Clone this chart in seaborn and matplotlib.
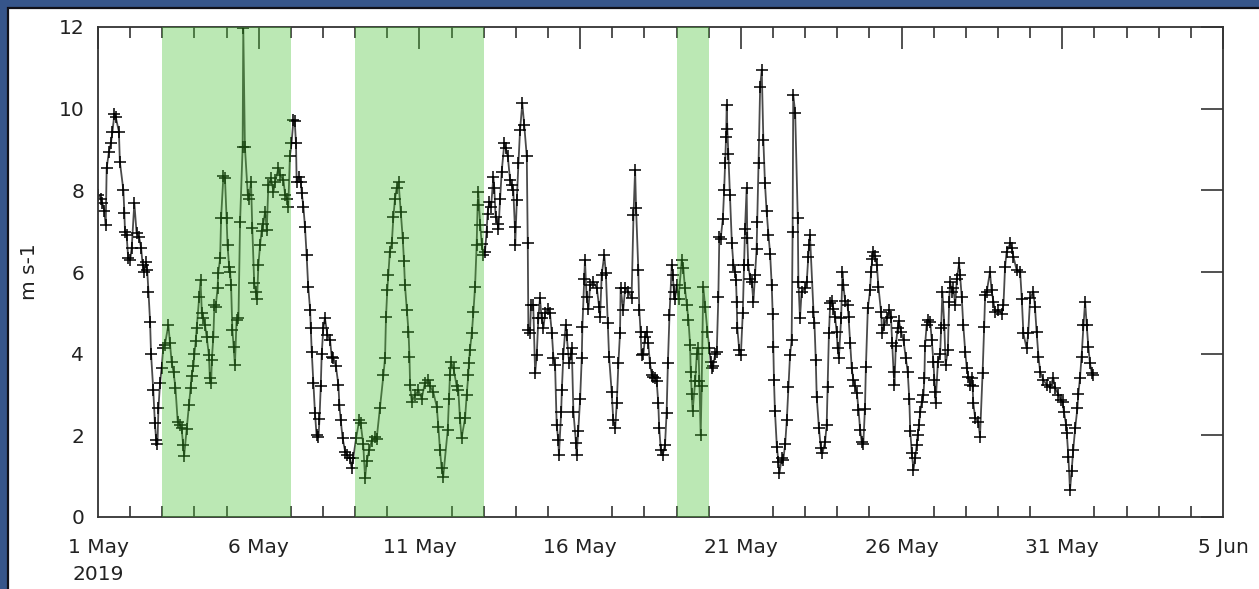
import numpy as np
import pandas as pd
import matplotlib
matplotlib.use("Agg")
import matplotlib.pyplot as plt
import matplotlib.dates as mdates
from matplotlib.patches import Rectangle
import seaborn as sns

# ---- data: decimal days since 2019-05-01 00:00, wind speed (m s-1) ----
days = [0.01, 0.09, 0.13, 0.20, 0.24, 0.27, 0.34, 0.40, 0.45, 0.51, 0.55, 0.65, 0.68, 0.79, 0.82, 0.84, 0.89, 0.94,
        1.00, 1.05, 1.13, 1.20, 1.28, 1.34, 1.39, 1.44, 1.49, 1.53, 1.57, 1.62, 1.65, 1.72, 1.77, 1.81, 1.85, 1.88, 1.93, 1.98,
        2.03, 2.08, 2.19, 2.24, 2.29, 2.35, 2.41, 2.48, 2.55, 2.60, 2.65, 2.68, 2.76, 2.83, 2.88, 2.91, 2.97,
        3.00, 3.04, 3.07, 3.15, 3.19, 3.23, 3.28, 3.33, 3.38, 3.45, 3.48, 3.52, 3.54, 3.59, 3.62, 3.66, 3.72, 3.74, 3.80, 3.83, 3.90, 3.95,
        4.00, 4.03, 4.08, 4.11, 4.14, 4.18, 4.22, 4.26, 4.31, 4.37, 4.42, 4.50, 4.52, 4.57, 4.66, 4.70, 4.76, 4.80, 4.86, 4.91, 4.95, 4.99,
        5.04, 5.09, 5.14, 5.20, 5.25, 5.30, 5.38, 5.46, 5.51, 5.61, 5.66, 5.77, 5.82, 5.89, 5.92, 5.97,
        6.02, 6.08, 6.12, 6.16, 6.18, 6.26, 6.31, 6.34, 6.39, 6.44, 6.49, 6.54, 6.60, 6.62, 6.65, 6.70, 6.75, 6.80, 6.86, 6.89, 6.93, 6.96,
        7.01, 7.06, 7.14, 7.22, 7.27, 7.32, 7.40, 7.48, 7.51, 7.55, 7.61, 7.69, 7.76, 7.84, 7.89, 7.94,
        8.03, 8.13, 8.17, 8.25, 8.31, 8.36, 8.44, 8.51, 8.62, 8.67, 8.77, 8.88, 8.93, 8.96,
        9.00, 9.03, 9.08, 9.14, 9.19, 9.24, 9.29, 9.35, 9.42, 9.48, 9.52, 9.55, 9.61, 9.66, 9.69, 9.71, 9.76, 9.86, 9.97,
        10.07, 10.17, 10.28, 10.33, 10.43, 10.54, 10.59, 10.64, 10.69, 10.74, 10.88, 10.92, 10.95, 10.98,
        11.06, 11.16, 11.21, 11.26, 11.31, 11.42, 11.47, 11.52, 11.54, 11.57, 11.63, 11.68, 11.73, 11.78, 11.81, 11.83, 11.89, 11.94, 11.99,
        12.04, 12.09, 12.12, 12.17, 12.23, 12.30, 12.33, 12.37, 12.43, 12.46, 12.51, 12.56, 12.64, 12.68, 12.75, 12.82, 12.87, 12.92, 12.97, 12.98,
        13.03, 13.08, 13.13, 13.20, 13.26, 13.34, 13.37, 13.39, 13.44, 13.47, 13.54, 13.60, 13.65, 13.70, 13.75, 13.80, 13.86, 13.91,
        14.01, 14.06, 14.12, 14.17, 14.22, 14.27, 14.32, 14.34, 14.41, 14.43, 14.48, 14.55, 14.58, 14.66, 14.72, 14.74, 14.79, 14.87, 14.89, 14.94,
        15.00, 15.05, 15.07, 15.13, 15.15, 15.20, 15.26, 15.31, 15.41, 15.52, 15.59, 15.62, 15.67, 15.75, 15.80, 15.86, 15.90, 15.98,
        16.03, 16.09, 16.14, 16.19, 16.24, 16.26, 16.34, 16.40, 16.50, 16.60, 16.66, 16.71, 16.74, 16.81, 16.84, 16.88, 16.91, 16.97,
        17.02, 17.07, 17.12, 17.17, 17.23, 17.28, 17.33, 17.38, 17.43, 17.46, 17.51, 17.57, 17.64, 17.69, 17.73, 17.78, 17.85, 17.88, 17.92, 17.95,
        18.00, 18.06, 18.16, 18.21, 18.26, 18.32, 18.37, 18.42, 18.44, 18.47, 18.50, 18.58, 18.63, 18.68, 18.71, 18.75, 18.78, 18.83, 18.89, 18.96,
        19.02, 19.06, 19.09, 19.14, 19.20, 19.25, 19.30, 19.33, 19.37, 19.44, 19.48, 19.51, 19.54, 19.56, 19.58, 19.61, 19.66, 19.72, 19.77, 19.82, 19.85, 19.87, 19.89, 19.95,
        20.00, 20.06, 20.10, 20.13, 20.18, 20.20, 20.23, 20.29, 20.34, 20.39, 20.44, 20.49, 20.51, 20.55, 20.60, 20.65, 20.70, 20.75, 20.80, 20.86, 20.91, 20.96, 20.99,
        21.01, 21.03, 21.06, 21.12, 21.17, 21.20, 21.27, 21.32, 21.38, 21.43, 21.48, 21.53, 21.58, 21.61, 21.63, 21.69, 21.77, 21.79, 21.84, 21.89,
        22.00, 22.05, 22.10, 22.12, 22.15, 22.26, 22.29, 22.33, 22.36, 22.43, 22.49, 22.54, 22.62, 22.67, 22.70, 22.74, 22.78, 22.83, 22.88, 22.93, 22.98,
        23.01, 23.05, 23.12, 23.16, 23.19, 23.24, 23.32, 23.35, 23.40, 23.45, 23.50, 23.55, 23.61, 23.66, 23.71, 23.76, 23.81, 23.86, 23.89, 23.95,
        24.02, 24.05, 24.09, 24.12, 24.17, 24.23, 24.28, 24.36, 24.40, 24.46, 24.54, 24.62, 24.67, 24.71, 24.75, 24.78, 24.82, 24.88, 24.92, 24.98,
        25.06, 25.13, 25.19, 25.24, 25.27, 25.32, 25.37, 25.42, 25.47, 25.50, 25.54, 25.58, 25.63, 25.68, 25.71, 25.73, 25.78, 25.83, 25.89, 25.94, 25.99,
        26.02, 26.04, 26.06, 26.13, 26.20, 26.23, 26.27, 26.33, 26.37, 26.44, 26.48, 26.51, 26.56, 26.61, 26.67, 26.72, 26.79, 26.82, 26.87, 26.92, 26.98,
        27.03, 27.08, 27.13, 27.18, 27.21, 27.23, 27.29, 27.39, 27.44, 27.52, 27.57, 27.60, 27.65, 27.75, 27.80, 27.86, 27.91,
        28.01, 28.12, 28.17, 28.22, 28.27, 28.38, 28.43, 28.48, 28.58, 28.69, 28.74, 28.79, 28.89, 28.94,
        29.00, 29.10, 29.15, 29.20, 29.26, 29.31, 29.41, 29.52, 29.62, 29.72, 29.78, 29.88, 29.95,
        30.01, 30.05, 30.12, 30.14, 30.19, 30.24, 30.29, 30.34, 30.40, 30.47, 30.50, 30.55, 30.60, 30.66, 30.71, 30.76, 30.81, 30.86, 30.92, 30.97]

speed = [7.89, 7.80, 7.70, 7.50, 7.15, 8.55, 8.94, 9.15, 9.44, 9.87, 9.80, 9.44, 8.70, 8.00, 7.45, 6.99, 6.90, 6.34,
         6.30, 6.60, 7.69, 6.96, 6.85, 6.60, 6.17, 6.00, 6.25, 6.05, 5.52, 4.78, 4.00, 3.10, 2.30, 1.89, 1.78, 2.66, 3.28, 3.65,
         4.14, 4.22, 4.70, 4.25, 3.80, 3.55, 3.16, 2.33, 2.26, 2.18, 1.76, 1.50, 2.15, 2.74, 3.16, 3.45, 3.70,
         4.00, 4.30, 4.62, 5.40, 5.80, 5.00, 4.88, 4.70, 4.42, 3.97, 3.40, 3.28, 3.85, 4.42, 5.19, 5.15, 5.60, 5.97, 6.34, 7.33, 8.34, 8.30,
         7.33, 6.65, 6.13, 6.00, 5.68, 4.58, 4.17, 3.72, 4.82, 4.87, 7.23, 9.07, 11.97, 9.07, 7.89, 7.80, 8.21, 7.08, 5.73, 5.52, 5.35, 6.17,
         6.65, 7.00, 7.18, 7.48, 7.03, 8.13, 8.30, 7.97, 8.20, 8.54, 8.38, 8.25, 7.89, 7.80, 7.60, 8.83,
         9.15, 9.72, 9.70, 9.15, 8.21, 8.33, 8.20, 7.93, 7.60, 7.10, 6.42, 5.64, 5.07, 4.62, 4.04, 3.28, 2.55, 2.00, 1.95, 2.40, 3.20, 4.00,
         4.62, 4.87, 4.45, 4.33, 3.93, 3.90, 3.70, 3.23, 2.74, 2.38, 1.93, 1.60, 1.52, 1.44, 1.20, 1.44,
         1.93, 2.38, 2.30, 1.80, 0.95, 1.36, 1.65, 1.85, 1.96, 1.92, 2.66, 3.48, 3.90, 4.90,
         5.55, 5.92, 6.50, 6.70, 7.35, 7.80, 8.05, 8.20, 7.48, 6.83, 6.26, 5.68, 5.07, 4.54, 3.93, 3.23, 2.82, 2.98, 3.10,
         2.90, 3.28, 3.36, 3.20, 3.06, 2.70, 2.20, 1.63, 1.20, 0.99, 2.13, 2.90, 3.48, 3.80,
         3.64, 3.20, 3.10, 2.42, 1.93, 2.42, 2.98, 3.48, 3.77, 4.09, 4.50, 5.03, 5.64, 6.66, 7.64, 7.97, 7.15, 6.68, 6.42,
         6.50, 6.99, 7.43, 7.72, 7.60, 8.33, 8.05, 7.35, 7.18, 7.05, 7.80, 8.46, 9.15, 9.03, 8.83, 8.25, 8.13, 8.00, 7.10, 6.66,
         7.76, 8.66, 9.47, 10.13, 9.60, 8.83, 6.70, 4.58, 4.50, 5.19, 5.20, 3.52, 3.97, 4.87, 5.36, 4.87, 4.64, 5.00,
         5.10, 5.00, 4.50, 3.90, 3.72, 2.25, 1.88, 1.52, 2.58, 3.10, 4.00, 4.70, 4.45, 3.77, 3.98, 4.13, 2.58, 1.82, 1.52, 2.10,
         2.90, 3.90, 4.66, 5.84, 6.29, 5.40, 5.10, 5.68, 5.76, 5.60, 5.15, 4.90, 5.92, 6.42, 5.97, 4.75, 3.93, 3.07,
         2.38, 2.17, 2.80, 3.77, 4.50, 5.60, 5.07, 5.60, 5.52, 5.36, 7.40, 8.50, 7.56, 6.05, 5.07, 4.54, 3.97, 4.00,
         4.42, 4.54, 4.25, 3.77, 3.48, 3.44, 3.41, 3.33, 2.80, 2.18, 1.64, 1.52, 1.76, 2.55, 3.77, 4.95, 6.17, 5.92, 5.50, 5.34,
         5.68, 5.34, 6.29, 6.10, 5.60, 5.19, 4.82, 4.22, 3.56, 3.02, 2.60, 3.33, 4.00, 4.13, 3.33, 2.00, 3.20, 5.64, 5.15, 4.54,
         4.13, 3.80, 3.64, 3.70, 4.00, 4.05, 5.40, 6.86, 6.80, 7.31, 8.00, 8.66, 9.31, 10.09, 9.50, 8.90, 7.89, 6.70, 6.17, 6.00, 5.80, 5.27, 4.62, 4.09,
         3.97, 5.00, 6.17, 7.06, 8.05, 6.83, 6.17, 5.84, 5.76, 5.27, 5.92, 6.57, 7.23, 8.66, 10.54, 10.95, 9.23, 8.17, 7.50, 6.90, 6.45, 5.68, 4.98,
         4.17, 3.35, 2.60, 1.72, 1.35, 1.07, 1.44, 1.40, 1.80, 2.38, 3.18, 3.97, 4.33, 6.99, 10.34, 9.90, 7.33, 5.76, 4.87, 5.52,
         5.60, 5.76, 6.37, 6.65, 6.90, 5.03, 4.75, 3.85, 2.94, 2.17, 1.68, 1.56, 1.84, 2.25, 3.18, 4.50, 5.23, 5.30, 5.10, 4.90, 4.54,
         4.13, 3.90, 4.87, 6.00, 5.68, 5.30, 5.18, 4.90, 4.25, 3.64, 3.36, 3.20, 3.04, 2.63, 2.14, 1.84, 1.80, 2.65, 3.67, 5.11,
         5.55, 6.00, 6.32, 6.50, 6.40, 6.17, 5.64, 5.03, 4.50, 4.70, 4.87, 5.07, 4.90, 4.25, 3.56, 3.23, 4.20, 4.64, 4.80, 4.54,
         4.33, 3.90, 3.56, 2.90, 2.10, 1.56, 1.15, 1.44, 1.76, 2.00, 2.25, 2.58, 2.82, 2.98, 3.40, 4.20, 4.70, 4.82, 4.78, 4.33, 3.80,
         3.36, 3.07, 2.80, 3.80, 4.00, 4.62, 5.52, 4.70, 3.72, 4.09, 5.27, 5.76, 5.52, 5.60, 5.20, 5.84, 6.21, 5.92, 5.40, 4.70, 4.05,
         3.64, 3.44, 3.23, 3.40, 3.20, 2.80, 2.42, 2.33, 1.97, 3.52, 4.66, 5.44, 5.52, 6.00, 5.55, 5.27, 5.03,
         5.07, 4.98, 5.20, 6.13, 6.50, 6.70, 6.60, 6.37, 6.05, 6.00, 5.34, 4.50, 4.13, 4.50,
         5.36, 5.52, 5.15, 4.54, 3.93, 3.56, 3.36, 3.23, 3.18, 3.41, 3.15, 3.00, 2.86,
         2.82, 2.58, 2.25, 2.05, 1.48, 0.66, 1.12, 1.64, 2.17, 2.66, 3.02, 3.40, 3.93, 4.70, 5.27, 4.70, 4.17, 3.77, 3.52, 3.48]

# highlighted periods (start, end)
bands = [("2019-05-03", "2019-05-07"), ("2019-05-09", "2019-05-13"), ("2019-05-19", "2019-05-20")]

major_dates = ["2019-05-01", "2019-05-06", "2019-05-11", "2019-05-16", "2019-05-21",
               "2019-05-26", "2019-05-31", "2019-06-05"]
major_labels = ["1 May\n2019", "6 May", "11 May", "16 May", "21 May", "26 May", "31 May", "5 Jun"]
y_ticks = [0, 2, 4, 6, 8, 10, 12]

start = pd.Timestamp("2019-05-01")
df = pd.DataFrame({"time": start + pd.to_timedelta(np.array(days), unit="D"),
                   "speed": speed})

sns.set_style("white")
plt.rcParams["font.family"] = ["DejaVu Sans"]

W, H = 1259, 589
fig = plt.figure(figsize=(W / 100, H / 100), dpi=100)
fig.patch.set_facecolor("#36558a")
fig.patches.append(Rectangle((8 / W, -0.05), 1.05, 1 - 8 / H + 0.05, transform=fig.transFigure,
                             facecolor="white", edgecolor="#101018", linewidth=1.6, zorder=-5))

ax = fig.add_axes([98 / W, 1 - 517 / H, (1223 - 98) / W, (517 - 27) / H])
ax.set_facecolor("none")

sns.lineplot(data=df, x="time", y="speed", ax=ax, color="#4a4a4a", linewidth=1.3,
             marker="+", markersize=8, markeredgecolor="black", markeredgewidth=1.1,
             zorder=2)

for b0, b1 in bands:
    ax.axvspan(pd.Timestamp(b0), pd.Timestamp(b1), facecolor=(69 / 255, 192 / 255, 47 / 255),
               alpha=0.36, edgecolor="none", zorder=3)

ax.set_xlim(pd.Timestamp("2019-05-01"), pd.Timestamp("2019-06-05"))
ax.set_ylim(0, 12)
ax.set_xticks([pd.Timestamp(d) for d in major_dates])
ax.set_xticklabels(major_labels)
ax.xaxis.set_minor_locator(mdates.DayLocator())
ax.set_yticks(y_ticks)
ax.set_yticklabels([str(v) for v in y_ticks])

ax.tick_params(axis="both", which="major", direction="in", length=16, width=1.1, color="#222222",
               labelsize=14.5, labelcolor="#222222", top=True, right=True)
ax.tick_params(axis="x", which="minor", direction="in", length=8, width=1.1, color="#222222",
               top=True, bottom=True)
ax.tick_params(axis="x", which="major", pad=15)
ax.tick_params(axis="y", which="major", pad=10)
for lbl in ax.get_xticklabels():
    lbl.set_linespacing(1.55)

for s in ax.spines.values():
    s.set_visible(True)
    s.set_color("#333333")
    s.set_linewidth(1.3)

ax.set_xlabel("")
ax.set_ylabel("m s-1", fontsize=14.5, color="#222222", labelpad=14)

fig.savefig("out.png", dpi=100, facecolor=fig.get_facecolor())
